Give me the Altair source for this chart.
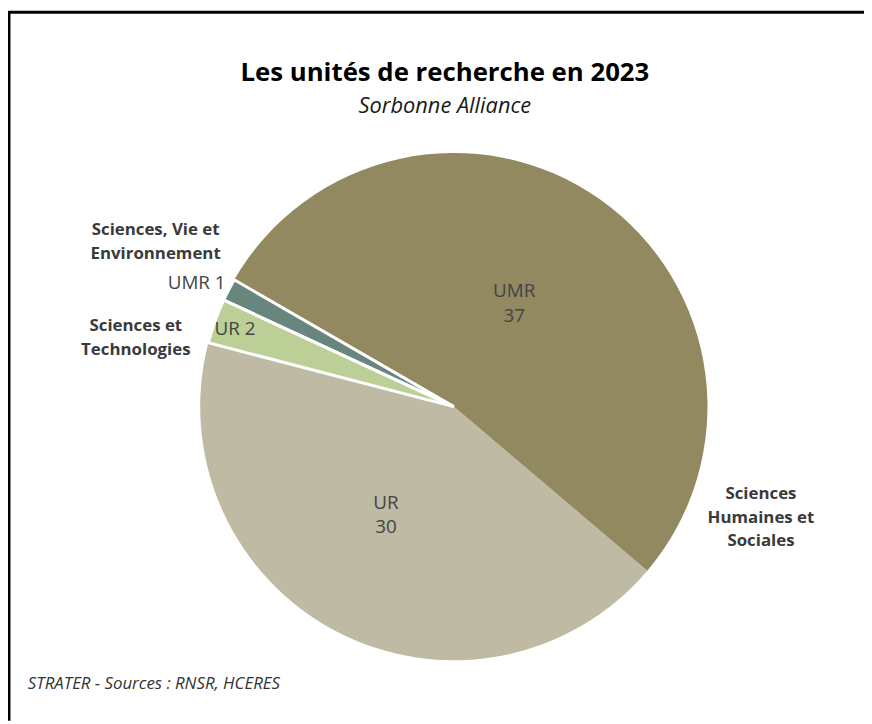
import altair as alt
import pandas as pd

# ---- data ----
slice_unit = ["UR", "UR", "UMR", "UMR"]
slice_domain = ["Sciences Humaines et Sociales", "Sciences et Technologies",
                "Sciences, Vie et Environnement", "Sciences Humaines et Sociales"]
slice_value = [30, 2, 1, 37]
slice_color = ["#bfbaa3", "#bccf96", "#68867e", "#928960"]

group_names = ["Sciences, Vie et Environnement", "Sciences et Technologies",
               "Sciences Humaines et Sociales"]
group_text = ["Sciences, Vie et\nEnvironnement", "Sciences et\nTechnologies",
              "Sciences\nHumaines et\nSociales"]

title_text = "Les unités de recherche en 2023"
subtitle_text = "Sorbonne Alliance"
footer_text = "STRATER - Sources : RNSR, HCERES"

FONT = "Open Sans"

df = pd.DataFrame({
    "idx": list(range(len(slice_value))),
    "unit": slice_unit,
    "domain": slice_domain,
    "value": slice_value,
})
df["key"] = df["unit"] + " - " + df["domain"]
keys = list(df["key"])

W, H = 864, 716
CX, CY = 450, 399
R = 256
start = 2.274
theta_scale = alt.Scale(range=[start, start + 2 * 3.141592653589793])

base = alt.Chart(df).encode(
    theta=alt.Theta("value:Q", stack=True, scale=theta_scale),
    order=alt.Order("idx:Q"),
    detail="key:N",
    x=alt.value(CX),
    y=alt.value(CY),
)

arcs = base.mark_arc(outerRadius=R, stroke=None).encode(
    color=alt.Color("key:N", scale=alt.Scale(domain=keys, range=slice_color), legend=None)
)

strokes = base.mark_arc(outerRadius=R, fillOpacity=0, fill="white", stroke="white",
                        strokeJoin="miter").encode(
    strokeWidth=alt.condition("datum.value < 5", alt.value(3), alt.value(0))
)

LBL = dict(font=FONT, fontSize=19, color="#444444")

big_labels = base.transform_calculate(
    t="datum.value >= 5 ? datum.unit + '\\n' + datum.value : ''"
).mark_text(radius=125, lineBreak="\n", lineHeight=25, dx=-11, dy=-14, **LBL).encode(text="t:N")

ur2_label = base.transform_calculate(
    t="datum.value == 2 ? datum.unit + ' ' + datum.value : ''"
).mark_text(radius=241, dx=6, dy=3, **LBL).encode(text="t:N")

umr1_label = base.transform_calculate(
    t="datum.value == 1 ? datum.unit + ' ' + datum.value : ''"
).mark_text(radius=288, dx=-4, dy=8, **LBL).encode(text="t:N")

gdf = pd.DataFrame({"name": group_names, "text": group_text})
gpos = [(149, 221), (129, 318), (760, 487)]
group_layers = []
for name, (gx, gy) in zip(group_names, gpos):
    group_layers.append(
        alt.Chart(gdf).transform_filter(alt.datum.name == name).mark_text(
            font=FONT, fontSize=17, fontWeight="bold", color="#3a3a3a",
            lineBreak="\n", lineHeight=24, align="center", baseline="middle"
        ).encode(text="text:N", x=alt.value(gx), y=alt.value(gy))
    )

footer = alt.Chart(pd.DataFrame({"t": [footer_text]})).mark_text(
    font=FONT, fontSize=17, fontStyle="italic", color="#333333", align="left",
    baseline="alphabetic"
).encode(text="t:N", x=alt.value(20), y=alt.value(684))

border_top = alt.Chart(pd.DataFrame({"a": [0]})).mark_rule(
    color="#000000", strokeWidth=3
).encode(x=alt.value(0), x2=alt.value(W), y=alt.value(1))
border_left = alt.Chart(pd.DataFrame({"a": [0]})).mark_rule(
    color="#000000", strokeWidth=3
).encode(x=alt.value(1), y=alt.value(0), y2=alt.value(H))

chart = alt.layer(
    arcs, strokes, big_labels, ur2_label, umr1_label, *group_layers, footer,
    border_top, border_left
).properties(
    width=W, height=H,
    autosize=alt.AutoSizeParams(type="none"),
    padding=0,
    title=alt.TitleParams(
        text=title_text, subtitle=subtitle_text, anchor="middle", orient="top",
        font=FONT, fontSize=26, fontWeight="bold", color="#000000",
        subtitleFont=FONT, subtitleFontSize=22, subtitleFontStyle="italic",
        subtitleColor="#1a1a1a", subtitlePadding=10, offset=0, dy=108, dx=9,
    ),
).configure_view(stroke=None)

chart.save("out.html", embed_options={"renderer": "svg", "actions": False})
